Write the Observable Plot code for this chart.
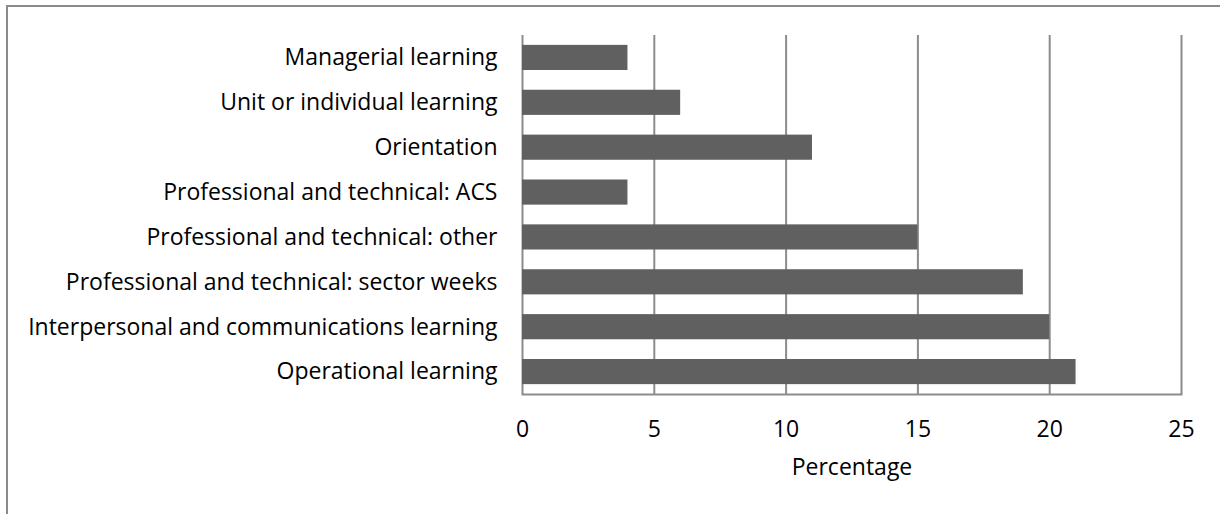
<!DOCTYPE html>
<html>
<head>
<meta charset="utf-8">
<script src="https://cdn.jsdelivr.net/npm/d3@7"></script>
<script src="https://cdn.jsdelivr.net/npm/@observablehq/plot@0.6"></script>
<style>
  html, body { margin: 0; padding: 0; background: #fff; }
  #wrap { position: relative; width: 1220px; height: 514px; overflow: hidden; }
  #border { position: absolute; left: 6px; top: 5px; width: 1300px; height: 600px;
            border-left: 2px solid #8a8a8a; border-top: 2px solid #8a8a8a; }
  #chart { position: absolute; left: 0; top: 0; }
</style>
</head>
<body>
<div id="wrap"><div id="border"></div><div id="chart"></div></div>
<script>
const categories = [
  "Managerial learning",
  "Unit or individual learning",
  "Orientation",
  "Professional and technical: ACS",
  "Professional and technical: other",
  "Professional and technical: sector weeks",
  "Interpersonal and communications learning",
  "Operational learning"
];
const values = [4, 6, 11, 4, 15, 19, 20, 21];
const xTicks = [0, 5, 10, 15, 20, 25];

const data = categories.map((c, i) => ({category: c, value: values[i]}));
const font = "Open Sans, sans-serif";

const chart = Plot.plot({
  width: 1220,
  height: 514,
  marginLeft: 522,
  marginRight: 39,
  marginTop: 35,
  marginBottom: 120,
  style: {fontFamily: font, fontSize: "23px", color: "#000", background: "transparent"},
  x: {domain: [0, 25]},
  y: {domain: categories, paddingInner: 0.44, paddingOuter: 0.22, round: false},
  marks: [
    Plot.ruleX(xTicks, {stroke: "#8c8c8c", strokeWidth: 2}),
    Plot.frame({anchor: "bottom", stroke: "#8c8c8c", strokeWidth: 2}),
    Plot.barX(data, {x: "value", y: "category", fill: "#606060"}),
    Plot.axisY({tickSize: 0, tickPadding: 25, fontSize: 23, label: null}),
    Plot.axisX({ticks: xTicks, tickSize: 0, tickPadding: 26, fontSize: 23, label: null, tickFormat: d => String(d)}),
    Plot.text(["Percentage"], {frameAnchor: "bottom", dy: 80, fontSize: 23, fill: "#000"})
  ]
});
document.getElementById("chart").appendChild(chart);
</script>
</body>
</html>
